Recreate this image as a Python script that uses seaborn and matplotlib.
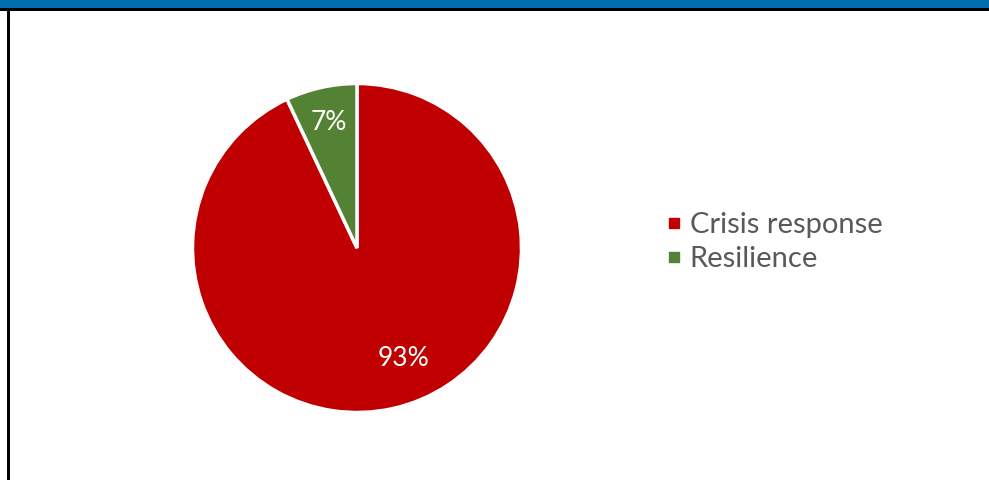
import matplotlib
matplotlib.use("Agg")
import matplotlib.pyplot as plt
from matplotlib.lines import Line2D
from matplotlib.patches import Rectangle
import seaborn as sns

# Funding split
categories = ["Crisis response", "Resilience"]
shares = [93, 7]
colors = ["#C00000", "#548235"]

sns.set_theme(style="white")
plt.rcParams["font.family"] = ["Lato", "DejaVu Sans"]

W, H = 989, 480
fig = plt.figure(figsize=(W / 100, H / 100), dpi=100)
fig.patch.set_facecolor("white")

# Header band and frame lines
fig.add_artist(Rectangle((0, (H - 8) / H), 1, 8 / H, transform=fig.transFigure,
                         facecolor="#0071AE", edgecolor="none"))
fig.add_artist(Rectangle((0, (H - 10.5) / H), 1, 2.5 / H, transform=fig.transFigure,
                         facecolor="black", edgecolor="none"))
fig.add_artist(Rectangle((7 / W, 0), 2.5 / W, (H - 9) / H, transform=fig.transFigure,
                         facecolor="black", edgecolor="none"))

# Pie axes
cx, cy, r = 357, 248, 164.5
ax = fig.add_axes([(cx - r) / W, (H - cy - r) / H, 2 * r / W, 2 * r / H])
wedges, texts, autotexts = ax.pie(
    shares, colors=colors, startangle=90, counterclock=False,
    autopct=lambda p: f"{p:.0f}%", pctdistance=0.78,
    wedgeprops=dict(edgecolor="white", linewidth=2.5),
    textprops=dict(color="white", fontsize=19),
)
ax.set_xlim(-1, 1)
ax.set_ylim(-1, 1)
ax.set_aspect("equal")
ax.axis("off")
autotexts[0].set_position((0.28, -0.67))

# Legend
handles = [Line2D([0], [0], marker="s", linestyle="none", markersize=7.5,
                  markerfacecolor=c, markeredgecolor=c) for c in colors]
leg = fig.legend(handles, categories, loc="center left",
                 bbox_to_anchor=(648 / W, 1 - 242 / H), frameon=False,
                 fontsize=21, handlelength=0.76, handletextpad=0.17,
                 labelspacing=0.28, borderpad=0)
for t in leg.get_texts():
    t.set_color("#595959")

fig.savefig("out.png", dpi=100, facecolor="white")
